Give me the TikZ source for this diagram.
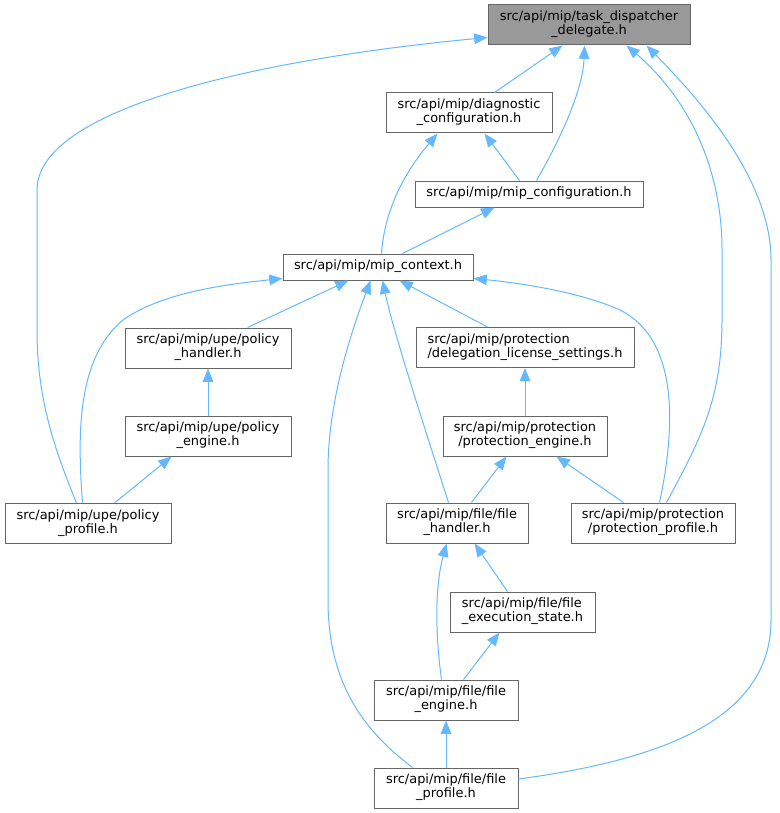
\documentclass[tikz,border=0pt]{standalone}
\usepackage{fontspec}
\setmainfont{DejaVu Sans}
\usetikzlibrary{arrows.meta,calc}
\definecolor{edgeblue}{HTML}{63B8FF}
\definecolor{boxline}{HTML}{666666}
\definecolor{rootfill}{HTML}{999999}
\newcommand{\twoline}[2]{\begin{tabular}{@{}l@{}}#1\\\multicolumn{1}{@{}c@{}}{#2}\end{tabular}}
\newcommand{\oneline}[1]{\begin{tabular}{@{}c@{}}#1\end{tabular}}
\begin{document}
\begin{tikzpicture}[x=0.75pt,y=-0.75pt,
 box/.style={draw=boxline, fill=white, line width=0.75pt, inner sep=0pt,
   font=\fontsize{9.7}{10.7}\selectfont, minimum height=30pt},
 root/.style={box, fill=rootfill},
 edge/.style={draw=edgeblue, line width=0.75pt, -{Triangle[length=10pt,width=8pt]}}]
\useasboundingbox (0,0) rectangle (779,813);
% nodes
\node[root, minimum width=151.5pt] (td) at (589,25) {\twoline{src/api/mip/task\_dispatcher}{\_delegate.h}};
\node[box, minimum width=124.5pt] (diag) at (469,113) {\twoline{src/api/mip/diagnostic}{\_configuration.h}};
\node[box, minimum width=171pt, minimum height=19.5pt] (mconf) at (529,194) {\oneline{src/api/mip/mip\_configuration.h}};
\node[box, minimum width=142.5pt, minimum height=19.5pt] (mctx) at (378,267) {\oneline{src/api/mip/mip\_context.h}};
\node[box, minimum width=124.5pt] (ph) at (208,348) {\twoline{src/api/mip/upe/policy}{\_handler.h}};
\node[box, minimum width=124.5pt] (pen) at (208,436) {\twoline{src/api/mip/upe/policy}{\_engine.h}};
\node[box, minimum width=124.5pt] (ppr) at (88,523.5) {\twoline{src/api/mip/upe/policy}{\_profile.h}};
\node[box, minimum width=163.5pt] (dls) at (525,347.5) {\twoline{src/api/mip/protection}{/delegation\_license\_settings.h}};
\node[box, minimum width=123pt] (pre) at (525,436) {\twoline{src/api/mip/protection}{/protection\_engine.h}};
\node[box, minimum width=106.5pt] (fh) at (457,523) {\twoline{src/api/mip/file/file}{\_handler.h}};
\node[box, minimum width=123pt] (prp) at (653,523) {\twoline{src/api/mip/protection}{/protection\_profile.h}};
\node[box, minimum width=108.75pt] (fes) at (522.5,612) {\twoline{src/api/mip/file/file}{\_execution\_state.h}};
\node[box, minimum width=108pt] (fe) at (446,700) {\twoline{src/api/mip/file/file}{\_engine.h}};
\node[box, minimum width=108pt] (fp) at (446,788) {\twoline{src/api/mip/file/file}{\_profile.h}};
% edges
\draw[edge] ($(diag.north west)+(109,0)$) -- ($(td.south west)+(75,0)$);
\draw[edge] ($(mconf.north west)+(122,0)$) .. controls (560,140) and (583,90) .. ($(td.south west)+(97,0)$);
\draw[edge] ($(mconf.north west)+(105,0)$) -- ($(diag.south west)+(99,0)$);
\draw[edge] ($(mctx.north west)+(99,0)$) .. controls (385,200) and (415,160) .. ($(diag.south west)+(52,0)$);
\draw[edge] ($(mctx.north west)+(120,0)$) -- ($(mconf.south west)+(80,0)$);
\draw[edge] ($(prp.north west)+(96,0)$) .. controls (700,440) and (722,400) .. (722,320) -- (722,250) .. controls (722,170) and (690,100) .. ($(td.south west)+(139,0)$);
\draw[edge] ($(fp.east)+(0,-9)$) .. controls (660,760) and (771,720) .. (771,620) -- (771,260) .. controls (771,180) and (700,100) .. ($(td.south west)+(159,0)$);
\draw[edge] ($(ppr.north west)+(72,0)$) .. controls (55,450) and (37,400) .. (37,330) -- (37,190) .. controls (37,110) and (250,60) .. ($(td.south west)+(0,-8)$);
\draw[edge] ($(ppr.north west)+(78,0)$) .. controls (78,440) and (75,360) .. (123,320) .. controls (165,290) and (240,283) .. ($(mctx.south west)+(0,-2)$);
\draw[edge] ($(ph.north west)+(123,0)$) -- ($(mctx.south west)+(66,0)$);
\draw[edge] (pen.north) -- (ph.south);
\draw[edge] ($(ppr.north west)+(110,0)$) -- ($(pen.south west)+(47,0)$);
\draw[edge] ($(fp.north west)+(39,0)$) .. controls (370,735) and (328,690) .. (328,600) -- (328,470) .. controls (328,400) and (352,330) .. ($(mctx.south west)+(88,0)$);
\draw[edge] ($(fh.north west)+(63,0)$) .. controls (422,420) and (393,330) .. ($(mctx.south west)+(100,0)$);
\draw[edge] ($(dls.north west)+(72,0)$) -- ($(mctx.south west)+(117,0)$);
\draw[edge] ($(prp.north west)+(89,0)$) .. controls (675,430) and (680,340) .. (620,310) .. controls (580,292) and (520,283) .. ($(mctx.south east)+(0,-2)$);
\draw[edge] (pre.north) -- (dls.south);
\draw[edge] ($(fh.north west)+(86,0)$) -- ($(pre.south west)+(64,0)$);
\draw[edge] ($(prp.north west)+(53,0)$) -- ($(pre.south west)+(114,0)$);
\draw[edge] ($(fe.north west)+(68,0)$) .. controls (436,640) and (434,590) .. ($(fh.south west)+(61,0)$);
\draw[edge] ($(fes.north west)+(58,0)$) -- ($(fh.south west)+(89,0)$);
\draw[edge] ($(fe.north west)+(90,0)$) -- ($(fes.south west)+(50,0)$);
\draw[edge] (fp.north) -- (fe.south);
\end{tikzpicture}
\end{document}
